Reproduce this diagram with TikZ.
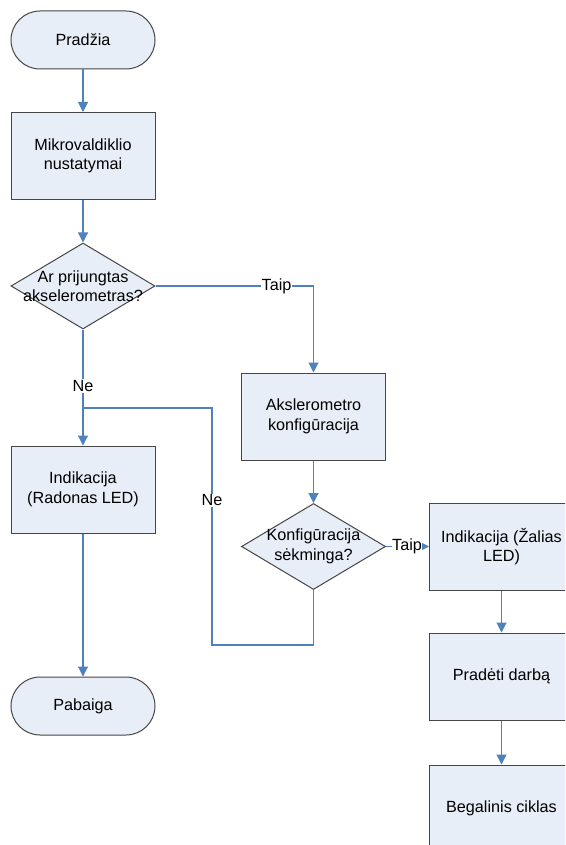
\documentclass[tikz,border=0pt]{standalone}
\usepackage{fontspec}
\setmainfont{Liberation Sans}
\usetikzlibrary{shapes.geometric,arrows.meta}
\definecolor{fillc}{RGB}{232,238,247}
\definecolor{linec}{RGB}{70,70,70}
\definecolor{connc}{RGB}{79,129,189}
\tikzset{
  txt/.style={font=\fontsize{16.2}{19.5}\selectfont, align=center},
  boxnode/.style={txt, draw=linec, fill=fillc, line width=1pt, rectangle, minimum width=144pt, minimum height=87pt, inner sep=0pt},
  termnode/.style={txt, draw=linec, fill=fillc, line width=1pt, rectangle, rounded corners=29pt, minimum width=144pt, minimum height=58pt, inner sep=0pt},
  decnode/.style={draw=linec, fill=fillc, line width=1pt, diamond, minimum width=144pt, minimum height=86pt, inner sep=0pt},
  conn/.style={draw=connc, line width=1.1pt},
  arr/.style={conn, -{Triangle[length=10pt,width=10pt]}},
  lab/.style={txt, fill=white, inner sep=1pt}
}
\begin{document}
\begin{tikzpicture}[x=1pt,y=-1pt]
\clip (0,0) rectangle (565,845);
\fill[white] (0,0) rectangle (565,845);
\node[termnode] (start) at (83,40) {Pradžia};
\node[boxnode] (mikro) at (83,156) {Mikrovaldiklio\\nustatymai};
\node[decnode, label={[txt]center:{Ar prijungtas\\akselerometras?}}] (d1) at (83,286) {};
\node[boxnode] (aksel) at (313.5,416.5) {Akslerometro\\konfigūracija};
\node[boxnode] (indr) at (83,489.5) {Indikacija\\(Radonas LED)};
\node[decnode, label={[txt]center:{Konfigūracija\\sėkminga?}}] (d2) at (313.5,546.5) {};
\node[boxnode] (indz) at (501.5,546.5) {Indikacija (Žalias\\LED)};
\node[boxnode] (darb) at (501.5,676.5) {Pradėti darbą};
\node[boxnode] (cikl) at (501.5,808.5) {Begalinis ciklas};
\node[termnode] (pab) at (83,706) {Pabaiga};
\coordinate (j1) at (83,408);
\coordinate (c1) at (313.5,645);
\coordinate (c2) at (212,645);
\coordinate (c3) at (212,408);

\draw[arr] (start) -- (mikro);
\draw[arr] (mikro) -- (d1);
\draw[arr] (d1.east) -| node[lab, pos=0.383] {Taip} (aksel.north);
\draw[arr] (d1.south) -- node[lab, pos=0.487] {Ne} (indr.north);
\draw[conn] (d2.south) -- (c1) -- (c2) -- node[lab, pos=0.61] {Ne} (c3) -- (j1);
\draw[arr] (aksel) -- (d2);
\draw[arr] (d2.east) -- node[lab, pos=0.49, inner sep=0.5pt] {Taip} (indz.west);
\draw[arr] (indz) -- (darb);
\draw[arr] (darb) -- (cikl);
\draw[arr] (indr) -- (pab);
\end{tikzpicture}
\end{document}
